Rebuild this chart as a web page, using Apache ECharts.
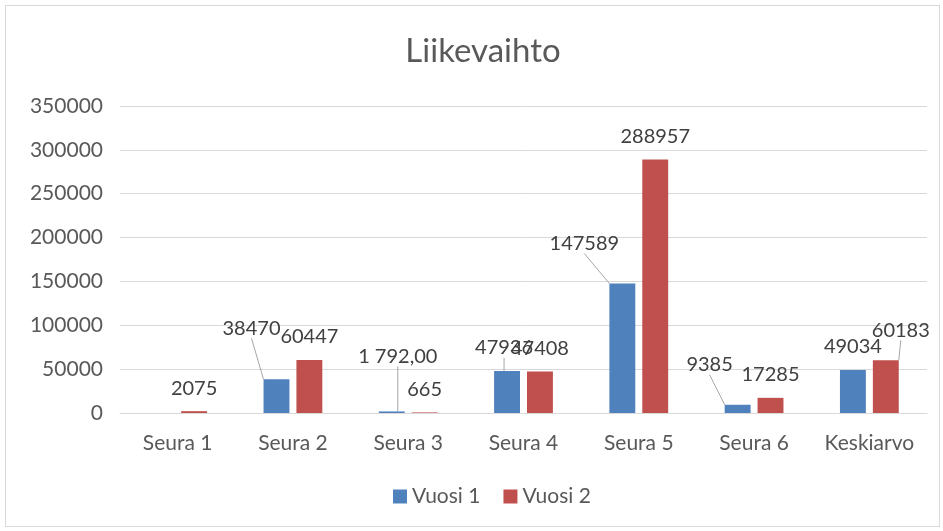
<!DOCTYPE html>
<html>
<head>
<meta charset="utf-8">
<script src="https://cdn.jsdelivr.net/npm/echarts@6/dist/echarts.min.js"></script>
<style>
  html, body { margin: 0; padding: 0; background: #fff; }
  #frame {
    position: absolute; left: 5px; top: 5px;
    width: 933px; height: 520px;
    border: 1px solid #d9d9d9;
  }
  #chart { position: absolute; left: 0; top: 0; width: 943px; height: 531px; }
</style>
</head>
<body>
<div id="frame"></div>
<div id="chart"></div>
<script>
// kategoriat ja arvot
var categories = ["Seura 1", "Seura 2", "Seura 3", "Seura 4", "Seura 5", "Seura 6", "Keskiarvo"];
var vuosi1 = ["-", 38470, 1792, 47936, 147589, 9385, 49034];
var vuosi2 = [2075, 60447, 665, 47408, 288957, 17285, 60183];
// arvolappujen tekstit sellaisinaan kuin kuvassa
var labels1 = ["", "38470", "1 792,00", "47936", "147589", "9385", "49034"];
var labels2 = ["2075", "60447", "665", "47408", "288957", "17285", "60183"];
// siirretyt laput (dx, dy)
var shift1 = [[0, 0], [-25, -28], [6, -32], [-3, 0], [-38, -17], [-28, -17], [0, 0]];
var shift2 = [[0, 0], [0, 0], [0, 0], [0, 0], [0, 0], [0, 0], [15, -7]];

var font = "Lato, 'Open Sans', sans-serif";
var chart = echarts.init(document.getElementById("chart"));

function isMoved(s) {
  return s[0] !== 0 || s[1] !== 0;
}

// viivat vain siirretyille lapuille
function buildData(values, shifts) {
  return values.map(function (v, i) {
    return { value: v, labelLine: { show: isMoved(shifts[i]) } };
  });
}

function labelLayoutFor(shifts) {
  return function (params) {
    var s = shifts[params.dataIndex] || [0, 0];
    return { dx: s[0], dy: s[1] };
  };
}

var labelStyle = {
  show: true,
  position: "top",
  distance: 13,
  fontFamily: font,
  fontSize: 20,
  color: "#404040",
};

var option = {
  animation: false,
  title: {
    text: "Liikevaihto",
    left: 478,
    textAlign: "center",
    top: 30,
    textStyle: { fontFamily: font, fontSize: 33, fontWeight: "normal", color: "#595959" },
  },
  grid: { left: 120, right: 16, top: 106, bottom: 118, containLabel: false },
  legend: {
    bottom: 19,
    left: 388,
    itemWidth: 14,
    itemHeight: 14,
    itemGap: 23,
    icon: "rect",
    textStyle: { fontFamily: font, fontSize: 21, color: "#595959" },
    data: ["Vuosi 1", "Vuosi 2"],
  },
  xAxis: {
    type: "category",
    data: categories,
    axisLine: { lineStyle: { color: "#d9d9d9" } },
    axisTick: { show: false },
    axisLabel: { interval: 0, fontFamily: font, fontSize: 21, color: "#595959", margin: 20 },
  },
  yAxis: {
    type: "value",
    min: 0,
    max: 350000,
    interval: 50000,
    axisLine: { show: false },
    axisTick: { show: false },
    axisLabel: {
      fontFamily: font,
      fontSize: 21,
      color: "#595959",
      margin: 17,
      formatter: function (v) { return String(v); },
    },
    splitLine: { lineStyle: { color: "#d9d9d9" } },
  },
  series: [
    {
      name: "Vuosi 1",
      type: "bar",
      data: buildData(vuosi1, shift1),
      barGap: "27%",
      barCategoryGap: "49%",
      itemStyle: { color: "#4f81bd" },
      label: Object.assign({}, labelStyle, {
        formatter: function (p) { return labels1[p.dataIndex]; },
      }),
      labelLine: { lineStyle: { color: "#a6a6a6", width: 1 } },
      labelLayout: labelLayoutFor(shift1),
    },
    {
      name: "Vuosi 2",
      type: "bar",
      data: buildData(vuosi2, shift2),
      itemStyle: { color: "#c0504d" },
      label: Object.assign({}, labelStyle, {
        formatter: function (p) { return labels2[p.dataIndex]; },
      }),
      labelLine: { lineStyle: { color: "#a6a6a6", width: 1 } },
      labelLayout: labelLayoutFor(shift2),
    },
  ],
};
chart.setOption(option);
</script>
</body>
</html>
